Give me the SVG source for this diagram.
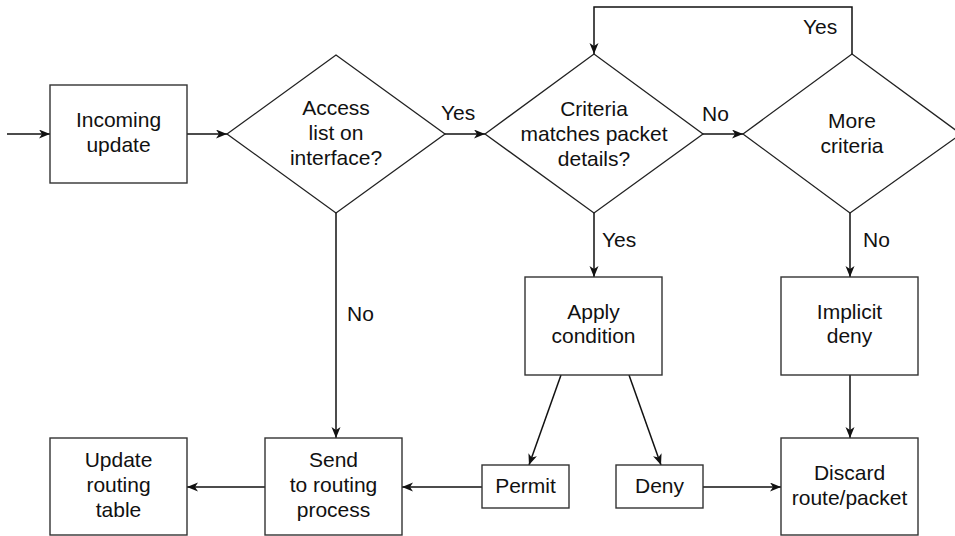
<svg xmlns="http://www.w3.org/2000/svg" width="955" height="536" viewBox="0 0 955 536">
<style>
.box{fill:#fff;stroke:#333;stroke-width:1.4}
.dia{fill:#fff;stroke:#222;stroke-width:1.3}
.t{font-family:"Liberation Sans",Arial,Helvetica,sans-serif;font-size:21px;fill:#111;text-anchor:middle}
.lbl{font-family:"Liberation Sans",Arial,Helvetica,sans-serif;font-size:21px;fill:#111}
.c{fill:none;stroke:#111;stroke-width:1.5}
</style>
<defs>
<marker id="ah" markerUnits="userSpaceOnUse" markerWidth="12" markerHeight="10" refX="11" refY="4.5" orient="auto">
<path d="M0,0 L11,4.5 L0,9 L3,4.5 Z" fill="#111"/>
</marker>
</defs>
<g id="connectors">
<line class="c" x1="7" y1="134" x2="50" y2="134" marker-end="url(#ah)"/>
<line class="c" x1="187" y1="134" x2="227" y2="134" marker-end="url(#ah)"/>
<line class="c" x1="445" y1="134" x2="485" y2="134" marker-end="url(#ah)"/>
<line class="c" x1="703" y1="134" x2="743" y2="134" marker-end="url(#ah)"/>
<polyline class="c" points="852,54 852,7 594,7 594,54" marker-end="url(#ah)"/>
<line class="c" x1="594" y1="213" x2="594" y2="277" marker-end="url(#ah)"/>
<line class="c" x1="850" y1="213" x2="850" y2="277" marker-end="url(#ah)"/>
<line class="c" x1="336" y1="213" x2="336" y2="438" marker-end="url(#ah)"/>
<line class="c" x1="561" y1="375" x2="529" y2="465" marker-end="url(#ah)"/>
<line class="c" x1="629" y1="375" x2="661" y2="465" marker-end="url(#ah)"/>
<line class="c" x1="850" y1="375" x2="850" y2="438" marker-end="url(#ah)"/>
<line class="c" x1="703" y1="487" x2="781" y2="487" marker-end="url(#ah)"/>
<line class="c" x1="482" y1="487" x2="402" y2="487" marker-end="url(#ah)"/>
<line class="c" x1="265" y1="487" x2="187" y2="487" marker-end="url(#ah)"/>
<text class="lbl" x="441" y="120">Yes</text>
<text class="lbl" x="702" y="121">No</text>
<text class="lbl" x="803" y="34">Yes</text>
<text class="lbl" x="602" y="247">Yes</text>
<text class="lbl" x="863" y="247">No</text>
<text class="lbl" x="347" y="321">No</text>
</g>
<g id="incoming">
<rect class="box" x="50" y="85" width="137" height="98"/>
<text class="t" x="118.5" y="127">Incoming</text>
<text class="t" x="118.5" y="152">update</text>
</g>
<g id="access">
<polygon class="dia" points="227,134 336,55 445,134 336,213"/>
<text class="t" x="336" y="115">Access</text>
<text class="t" x="336" y="140">list on</text>
<text class="t" x="336" y="165">interface?</text>
</g>
<g id="criteria">
<polygon class="dia" points="485,134 594,54 703,134 594,213"/>
<text class="t" x="594" y="116">Criteria</text>
<text class="t" x="594" y="141">matches packet</text>
<text class="t" x="594" y="166">details?</text>
</g>
<g id="more">
<polygon class="dia" points="743,134 852,54 961,134 850,213"/>
<text class="t" x="852" y="128">More</text>
<text class="t" x="852" y="153">criteria</text>
</g>
<g id="apply">
<rect class="box" x="525" y="277" width="137" height="98"/>
<text class="t" x="593.5" y="319">Apply</text>
<text class="t" x="593.5" y="343">condition</text>
</g>
<g id="implicit">
<rect class="box" x="781" y="277" width="137" height="98"/>
<text class="t" x="849.5" y="319">Implicit</text>
<text class="t" x="849.5" y="343">deny</text>
</g>
<g id="permit">
<rect class="box" x="482" y="465" width="87" height="43"/>
<text class="t" x="525.5" y="493">Permit</text>
</g>
<g id="deny">
<rect class="box" x="616" y="465" width="87" height="43"/>
<text class="t" x="659.5" y="493">Deny</text>
</g>
<g id="discard">
<rect class="box" x="781" y="438" width="137" height="97"/>
<text class="t" x="849.5" y="480">Discard</text>
<text class="t" x="849.5" y="505">route/packet</text>
</g>
<g id="send">
<rect class="box" x="265" y="438" width="137" height="97"/>
<text class="t" x="333.5" y="467">Send</text>
<text class="t" x="333.5" y="492">to routing</text>
<text class="t" x="333.5" y="517">process</text>
</g>
<g id="update">
<rect class="box" x="50" y="438" width="137" height="97"/>
<text class="t" x="118.5" y="467">Update</text>
<text class="t" x="118.5" y="492">routing</text>
<text class="t" x="118.5" y="517">table</text>
</g>
</svg>
